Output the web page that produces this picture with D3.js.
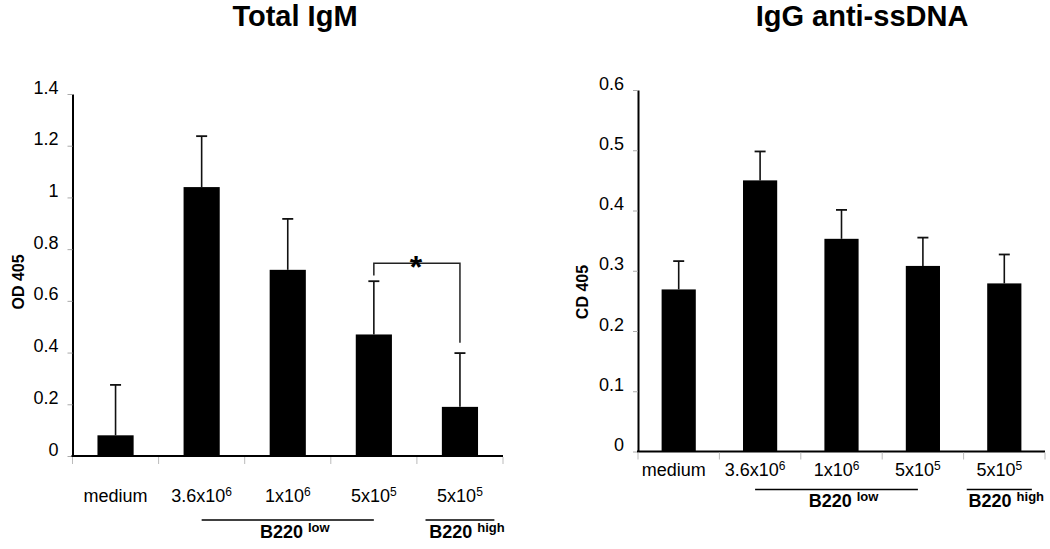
<!DOCTYPE html>
<html>
<head>
<meta charset="utf-8">
<script src="https://cdn.jsdelivr.net/npm/d3@7"></script>
<style>
  html, body { margin: 0; padding: 0; background: #fff; }
  svg { display: block; font-family: "Liberation Sans", Arial, Helvetica, sans-serif; }
</style>
</head>
<body>
<svg id="chart" width="1050" height="549"></svg>
<script>
// ---------- data ----------
const categories = ["medium", "3.6x10^6", "1x10^6", "5x10^5", "5x10^5 "];
const catBase = ["medium", "3.6x10", "1x10", "5x10", "5x10"];
const catSup  = ["", "6", "6", "5", "5"];

const igmValues = [0.08, 1.04, 0.72, 0.47, 0.19];
const igmErrors = [0.195, 0.197, 0.197, 0.206, 0.208];
const igmTicks  = [0, 0.2, 0.4, 0.6, 0.8, 1, 1.2, 1.4];

const ssValues = [0.269, 0.450, 0.353, 0.308, 0.279];
const ssErrors = [0.047, 0.048, 0.048, 0.047, 0.048];
const ssTicks  = [0, 0.1, 0.2, 0.3, 0.4, 0.5, 0.6];

// group labels: [first category index, last category index, superscript]
const groups = [
  { from: 1, to: 3, sup: "low" },
  { from: 4, to: 4, sup: "high" }
];
// significance bracket on Total IgM
const igmSig = { from: 3, to: 4, y: 0.745, leftEnd: 0.698, rightEnd: 0.438, label: "*" };

// ---------- layout ----------
const svg = d3.select("#chart");
const FONT = "'Liberation Sans', Arial, Helvetica, sans-serif";

const panels = [
  { title: "Total IgM", titleX: 295, titleY: 26, yTitle: "OD 405", yTitleX: 18, yTitleY: 282,
    values: igmValues, errors: igmErrors, ticks: igmTicks, domain: [0, 1.4],
    xRange: [72.5, 503], yRange: [456, 94],
    labelY: 502, labelShift: 0, groupLineY: 520, groupTextY: 537.5, sig: igmSig },
  { title: "IgG anti-ssDNA", titleX: 862, titleY: 26, yTitle: "CD 405", yTitleX: 582, yTitleY: 292,
    values: ssValues, errors: ssErrors, ticks: ssTicks, domain: [0, 0.6],
    xRange: [638, 1045], yRange: [451.5, 90],
    labelY: 475.5, labelShift: -5, groupLineY: 489.5, groupTextY: 507, sig: null }
];

panels.forEach(p => {
  const g = svg.append("g");
  const x = d3.scaleBand().domain(categories).range(p.xRange).padding(0);
  const y = d3.scaleLinear().domain(p.domain).range(p.yRange);
  const bw = x.bandwidth() * 0.42;
  const cx = i => x(categories[i]) + x.bandwidth() / 2;

  // title
  g.append("text").attr("x", p.titleX).attr("y", p.titleY)
    .attr("text-anchor", "middle").attr("font-weight", "bold")
    .attr("font-size", 29).attr("fill", "#000").text(p.title);

  // y axis title
  g.append("text")
    .attr("transform", `translate(${p.yTitleX},${p.yTitleY}) rotate(-90)`)
    .attr("text-anchor", "middle").attr("dominant-baseline", "central")
    .attr("font-weight", "bold").attr("font-size", 16).text(p.yTitle);

  // y axis
  const yAxis = d3.axisLeft(y).tickValues(p.ticks).tickFormat(d => String(d))
    .tickSize(5).tickSizeOuter(0).tickPadding(9);
  const ya = g.append("g").attr("transform", `translate(${p.xRange[0]},0)`).call(yAxis);
  ya.select(".domain").attr("stroke", "#000").attr("stroke-width", 2);
  ya.selectAll(".tick line").attr("stroke", "#aaa").attr("stroke-width", 1);
  ya.selectAll(".tick text").attr("font-size", 18).attr("font-family", FONT)
    .attr("fill", "#000").attr("dy", "-0.05em");

  // bars
  g.selectAll("rect.bar").data(p.values).join("rect").attr("class", "bar")
    .attr("x", (d, i) => cx(i) - bw / 2)
    .attr("y", d => y(d))
    .attr("width", bw)
    .attr("height", d => y(0) - y(d))
    .attr("fill", "#000");

  // error bars (upper only)
  const eb = g.selectAll("g.err").data(p.values).join("g").attr("class", "err");
  eb.append("line")
    .attr("x1", (d, i) => cx(i)).attr("x2", (d, i) => cx(i))
    .attr("y1", d => y(d)).attr("y2", (d, i) => y(d + p.errors[i]))
    .attr("stroke", "#111").attr("stroke-width", 1.6);
  eb.append("line")
    .attr("x1", (d, i) => cx(i) - 5.5).attr("x2", (d, i) => cx(i) + 5.5)
    .attr("y1", (d, i) => y(d + p.errors[i])).attr("y2", (d, i) => y(d + p.errors[i]))
    .attr("stroke", "#111").attr("stroke-width", 1.8);

  // x axis baseline
  g.append("line").attr("x1", p.xRange[0] - 1).attr("x2", p.xRange[1])
    .attr("y1", y(0)).attr("y2", y(0))
    .attr("stroke", "#000").attr("stroke-width", 2);
  // category boundary ticks
  const bounds = categories.map(c => x(c)).concat([p.xRange[1]]);
  g.selectAll("line.ctick").data(bounds).join("line").attr("class", "ctick")
    .attr("x1", d => d).attr("x2", d => d)
    .attr("y1", y(0) + 1).attr("y2", y(0) + 8)
    .attr("stroke", "#bbb").attr("stroke-width", 1);

  // category labels
  const lab = g.selectAll("text.clab").data(categories).join("text").attr("class", "clab")
    .attr("x", (d, i) => cx(i) + p.labelShift).attr("y", p.labelY)
    .attr("text-anchor", "middle").attr("font-size", 18).attr("fill", "#000");
  lab.append("tspan").text((d, i) => catBase[i]);
  lab.append("tspan").attr("font-size", 12).attr("dy", -6).text((d, i) => catSup[i]);

  // group lines & labels
  groups.forEach(gr => {
    let x1, x2;
    if (gr.from === gr.to) {
      x1 = cx(gr.from) - x.bandwidth() * 0.4;
      x2 = cx(gr.to) + x.bandwidth() * 0.4;
    } else {
      x1 = cx(gr.from); x2 = cx(gr.to);
    }
    x1 += p.labelShift; x2 += p.labelShift;
    g.append("line").attr("x1", x1).attr("x2", x2)
      .attr("y1", p.groupLineY).attr("y2", p.groupLineY)
      .attr("stroke", "#000").attr("stroke-width", 1.5);
    const t = g.append("text").attr("x", (x1 + x2) / 2 + 7).attr("y", p.groupTextY)
      .attr("text-anchor", "middle").attr("font-weight", "bold").attr("font-size", 18);
    t.append("tspan").text("B220 ");
    t.append("tspan").attr("font-size", 13).attr("dy", -6).text(gr.sup);
  });

  // significance bracket
  if (p.sig) {
    const s = p.sig;
    const xa = cx(s.from), xb = cx(s.to);
    g.append("path")
      .attr("d", `M${xa},${y(s.leftEnd)}V${y(s.y)}H${xb}V${y(s.rightEnd)}`)
      .attr("fill", "none").attr("stroke", "#222").attr("stroke-width", 1.5);
    g.append("text").attr("x", (xa + xb) / 2 - 1).attr("y", y(s.y) + 15)
      .attr("text-anchor", "middle").attr("font-weight", "bold")
      .attr("font-size", 32).text(s.label);
  }
});
</script>
</body>
</html>
